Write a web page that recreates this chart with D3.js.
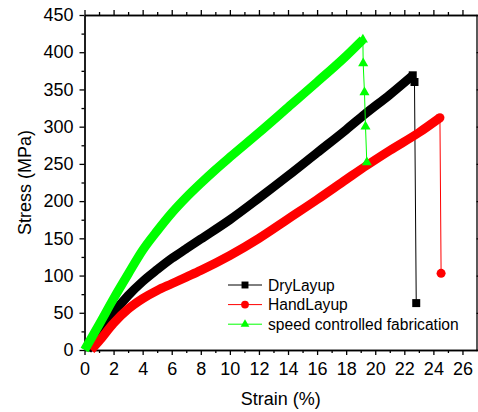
<!DOCTYPE html>
<html>
<head>
<meta charset="utf-8">
<script src="https://cdn.jsdelivr.net/npm/d3@7"></script>
<style>
  body { margin: 0; background: #fff; }
  svg text { font-family: Arial, "Liberation Sans", sans-serif; fill: #000; }
</style>
</head>
<body>
<div id="chart"></div>
<script>
// values
var xTicks = [0, 2, 4, 6, 8, 10, 12, 14, 16, 18, 20, 22, 24, 26];
var yTicks = [0, 50, 100, 150, 200, 250, 300, 350, 400, 450];

// loading part of each curve (dense markers in the original)
var dryStrain = [0.2, 1, 2, 3, 4, 5, 6, 7, 8, 10, 12, 14, 16, 18, 19.3, 21, 22.58];
var dryStress = [0, 22, 50, 73, 92, 108, 123, 136, 149, 175, 204, 234, 265, 296, 317, 343, 369];
// failure points
var dryFailStrain = [22.58, 22.7, 22.82];
var dryFailStress = [369, 360, 63];

var handStrain = [0.45, 1, 2, 3, 4, 5, 6, 7, 8, 10, 12, 14, 16, 18, 19.42, 21, 23, 24.45];
var handStress = [0, 12, 36, 55, 69, 80, 89, 98, 107, 127, 150, 176, 202, 229, 248, 268, 292, 312];
var handFailStrain = [24.45, 24.53];
var handFailStress = [312, 103];

var speedStrain = [0, 1, 2, 3, 4, 5, 6, 7, 8, 9, 10, 12, 14, 16, 18, 19.15];
var speedStress = [0, 34, 69, 102, 134, 160, 184, 205, 224, 242, 259, 292, 326, 360, 395, 417];
var speedFailStrain = [19.15, 19.17, 19.26, 19.33, 19.42];
var speedFailStress = [417, 385, 346, 300, 252];

var seriesNames = ["DryLayup", "HandLayup", "speed controlled fabrication"];
var seriesColors = ["#000000", "#ff0000", "#00ff00"];

var W = 478, H = 412;

var svg = d3.select("#chart").append("svg")
  .attr("width", W)
  .attr("height", H);

var x = d3.scaleLinear().domain([0, 27]).range([84.5, 477]);
var y = d3.scaleLinear().domain([0, 450]).range([350, 15]);

function zip(a, b) { return a.map(function (v, i) { return [v, b[i]]; }); }

var series = [
  { name: seriesNames[0], color: seriesColors[0], shape: d3.symbolSquare, size: 64,
    pts: zip(dryStrain, dryStress), fail: zip(dryFailStrain, dryFailStress) },
  { name: seriesNames[1], color: seriesColors[1], shape: d3.symbolCircle, size: 64,
    pts: zip(handStrain, handStress), fail: zip(handFailStrain, handFailStress) },
  { name: seriesNames[2], color: seriesColors[2], shape: d3.symbolTriangle, size: 44,
    pts: zip(speedStrain, speedStress), fail: zip(speedFailStrain, speedFailStress) }
];

// minor + major ticks
var minorX = d3.range(1, 27, 2);
var minorY = d3.range(25, 450, 50);

function styleAxis(g) {
  g.selectAll("path, line").attr("stroke", "#000").attr("stroke-width", 1.3);
}

// bottom
svg.append("g").attr("transform", "translate(0,350)")
  .call(d3.axisBottom(x).tickValues(minorX).tickSize(3).tickSizeOuter(0).tickFormat(""))
  .call(styleAxis);
svg.append("g").attr("transform", "translate(0,350)")
  .call(d3.axisBottom(x).tickValues(xTicks).tickSize(5).tickSizeOuter(0).tickPadding(7))
  .call(styleAxis)
  .call(function (g) { g.selectAll("text").style("font-size", "18px"); });

// top
svg.append("g").attr("transform", "translate(0,15)")
  .call(d3.axisTop(x).tickValues(minorX).tickSize(3).tickSizeOuter(0).tickFormat(""))
  .call(styleAxis);
svg.append("g").attr("transform", "translate(0,15)")
  .call(d3.axisTop(x).tickValues(xTicks).tickSize(5).tickSizeOuter(0).tickFormat(""))
  .call(styleAxis);

// left
svg.append("g").attr("transform", "translate(84.5,0)")
  .call(d3.axisLeft(y).tickValues(minorY).tickSize(3).tickSizeOuter(0).tickFormat(""))
  .call(styleAxis);
svg.append("g").attr("transform", "translate(84.5,0)")
  .call(d3.axisLeft(y).tickValues(yTicks).tickSize(5).tickSizeOuter(0).tickPadding(6))
  .call(styleAxis)
  .call(function (g) { g.selectAll("text").style("font-size", "18px"); });

// right
svg.append("g").attr("transform", "translate(476.5,0)")
  .call(d3.axisRight(y).tickValues(yTicks).tickSize(5).tickSizeOuter(0).tickFormat(""))
  .call(styleAxis);

// axis titles
svg.append("text")
  .attr("x", (84.5 + 477) / 2)
  .attr("y", 405)
  .attr("text-anchor", "middle")
  .style("font-size", "18px")
  .text("Strain (%)");

svg.append("text")
  .attr("transform", "translate(31," + (15 + 350) / 2 + ") rotate(-90)")
  .attr("text-anchor", "middle")
  .style("font-size", "18px")
  .text("Stress (MPa)");

// curves
var smooth = d3.line().x(function (d) { return x(d[0]); }).y(function (d) { return y(d[1]); })
  .curve(d3.curveMonotoneX);
var straight = d3.line().x(function (d) { return x(d[0]); }).y(function (d) { return y(d[1]); });

series.forEach(function (s) {
  var g = svg.append("g");
  // thin failure drop
  g.append("path")
    .attr("d", straight(s.fail))
    .attr("fill", "none")
    .attr("stroke", s.color)
    .attr("stroke-width", 1);
  // thick band of dense markers
  g.append("path")
    .attr("d", smooth(s.pts))
    .attr("fill", "none")
    .attr("stroke", s.color)
    .attr("stroke-width", 9);
  g.selectAll(".m")
    .data(s.fail)
    .join("path")
    .attr("transform", function (d) { return "translate(" + x(d[0]) + "," + y(d[1]) + ")"; })
    .attr("d", d3.symbol().type(s.shape).size(s.size))
    .attr("fill", s.color);
});

// legend
var legend = svg.append("g");
series.forEach(function (s, i) {
  var ly = 285 + i * 19.6;
  legend.append("line")
    .attr("x1", 228).attr("x2", 262)
    .attr("y1", ly).attr("y2", ly)
    .attr("stroke", s.color)
    .attr("stroke-width", 1);
  legend.append("path")
    .attr("transform", "translate(245," + ly + ")")
    .attr("d", d3.symbol().type(s.shape).size(s.size * 0.75))
    .attr("fill", s.color);
  legend.append("text")
    .attr("x", 268)
    .attr("y", ly)
    .attr("dy", "0.36em")
    .style("font-size", "15.6px")
    .text(s.name);
});
</script>
</body>
</html>
